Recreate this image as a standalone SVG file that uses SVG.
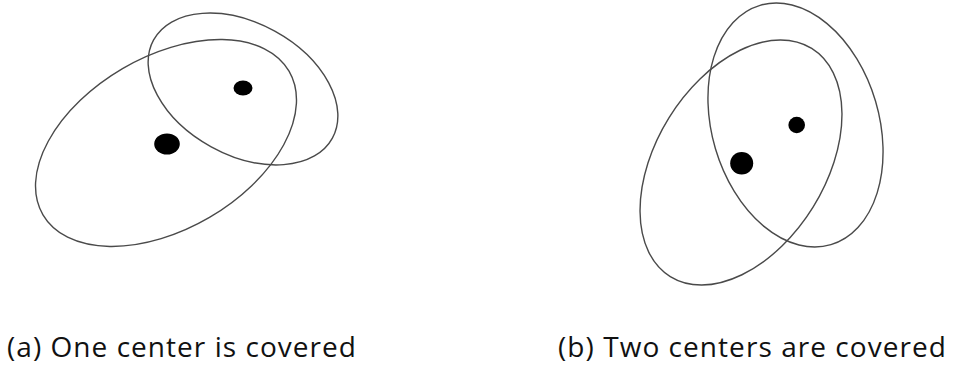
<svg xmlns="http://www.w3.org/2000/svg" width="954" height="368" viewBox="0 0 954 368">
<style>
.ring{fill:none;stroke:#4a4a4a;stroke-width:1.4}
.dot{fill:#000}
.cap{font-family:"Open Sans","DejaVu Sans",sans-serif;font-size:28px;fill:#111}
</style>
<rect width="954" height="368" fill="#fff"/>
<g id="diagram-a">
<ellipse class="ring" cx="166" cy="143" rx="142.5" ry="86.2" transform="rotate(-30.3 166 143)"/>
<ellipse class="ring" cx="243" cy="89" rx="102" ry="66" transform="rotate(28.8 243 89)"/>
<ellipse class="dot" cx="167" cy="144" rx="12.8" ry="10.5"/>
<ellipse class="dot" cx="243" cy="88" rx="9.5" ry="7.6"/>
<text class="cap" x="7" y="357" textLength="349" lengthAdjust="spacing">(a) One center is covered</text>
</g>
<g id="diagram-b">
<ellipse class="ring" cx="741" cy="162.5" rx="134.2" ry="84.8" transform="rotate(-58.2 741 162.5)"/>
<ellipse class="ring" cx="795.5" cy="125" rx="124.8" ry="83.5" transform="rotate(73.5 795.5 125)"/>
<ellipse class="dot" cx="741.7" cy="163.3" rx="11.5" ry="11.3"/>
<ellipse class="dot" cx="796.7" cy="125" rx="8.3" ry="8.3"/>
<text class="cap" x="558" y="357" textLength="388" lengthAdjust="spacing">(b) Two centers are covered</text>
</g>
<g id="connectors"/>
</svg>
